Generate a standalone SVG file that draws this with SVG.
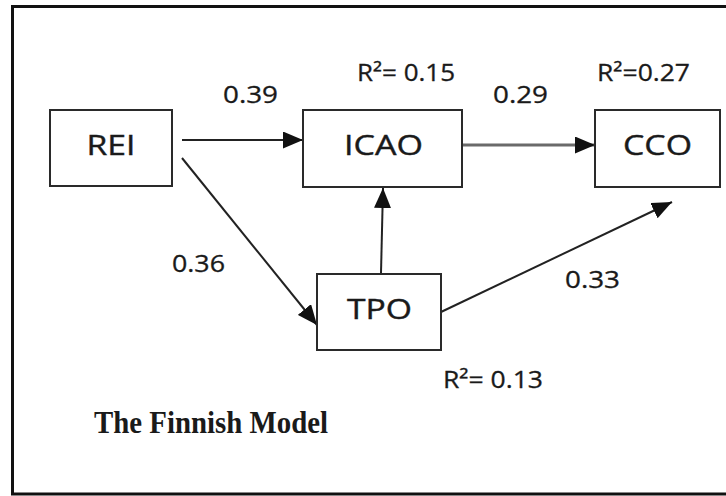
<svg xmlns="http://www.w3.org/2000/svg" width="726" height="496" viewBox="0 0 726 496">
  <style>
    .frame { fill: none; stroke: #111; stroke-width: 3; }
    .box { fill: #fff; stroke: #2a2a2a; stroke-width: 2; }
    .node-label { font-family: "Open Sans", "Noto Sans", "DejaVu Sans", sans-serif; font-size: 28px; fill: #1a1a1a; stroke: #1a1a1a; stroke-width: 0.4; text-anchor: middle; }
    .coef { font-family: "Open Sans", "Noto Sans", "DejaVu Sans", sans-serif; font-size: 23px; fill: #1a1a1a; stroke: #1a1a1a; stroke-width: 0.3; }
    .title { font-family: "Liberation Serif", "DejaVu Serif", serif; font-weight: bold; font-size: 32px; fill: #1a1a1a; }
    .edge { fill: none; stroke: #222; stroke-width: 2; }
    .edge-grey { fill: none; stroke: #6a6a6a; stroke-width: 3; }
  </style>
  <defs>
    <marker id="head" markerUnits="userSpaceOnUse" markerWidth="20" markerHeight="17" refX="20" refY="8.5" orient="auto">
      <path d="M0,0 L20,8.5 L0,17 z" fill="#111"/>
    </marker>
  </defs>

  <rect width="726" height="496" fill="#fff"/>

  <!-- outer frame: open on the right side -->
  <path class="frame" d="M740,6.5 H12.5 V494 H740"/>

  <g id="connectors">
    <line class="edge" x1="182" y1="140" x2="303" y2="140" marker-end="url(#head)"/>
    <line class="edge-grey" x1="462" y1="145" x2="595" y2="145" marker-end="url(#head)"/>
    <line class="edge" x1="182" y1="158" x2="317" y2="325" marker-end="url(#head)"/>
    <line class="edge" x1="381" y1="273" x2="383" y2="188" marker-end="url(#head)"/>
    <line class="edge" x1="441" y1="312" x2="672" y2="202" marker-end="url(#head)"/>
  </g>

  <g id="node-rei">
    <rect class="box" x="50" y="110" width="122" height="76"/>
    <text class="node-label" x="111" y="155" textLength="49" lengthAdjust="spacingAndGlyphs">REI</text>
  </g>

  <g id="node-icao">
    <rect class="box" x="303" y="110" width="159" height="77"/>
    <text class="node-label" x="383.5" y="155" textLength="79" lengthAdjust="spacingAndGlyphs">ICAO</text>
  </g>

  <g id="node-cco">
    <rect class="box" x="595" y="110" width="125" height="77"/>
    <text class="node-label" x="657.5" y="155" textLength="69" lengthAdjust="spacingAndGlyphs">CCO</text>
  </g>

  <g id="node-tpo">
    <rect class="box" x="317" y="274" width="124" height="76"/>
    <text class="node-label" x="379.5" y="319" textLength="65" lengthAdjust="spacingAndGlyphs">TPO</text>
  </g>

  <g id="labels">
    <text class="coef" x="223" y="103" textLength="55" lengthAdjust="spacingAndGlyphs">0.39</text>
    <text class="coef" x="357" y="81" textLength="98" lengthAdjust="spacingAndGlyphs">R²= 0.15</text>
    <text class="coef" x="493" y="103" textLength="55" lengthAdjust="spacingAndGlyphs">0.29</text>
    <text class="coef" x="597" y="81" textLength="93" lengthAdjust="spacingAndGlyphs">R²=0.27</text>
    <text class="coef" x="172" y="272" textLength="53" lengthAdjust="spacingAndGlyphs">0.36</text>
    <text class="coef" x="565" y="288" textLength="55" lengthAdjust="spacingAndGlyphs">0.33</text>
    <text class="coef" x="443" y="388" textLength="100" lengthAdjust="spacingAndGlyphs">R²= 0.13</text>
    <text class="title" x="94" y="433" textLength="234" lengthAdjust="spacingAndGlyphs">The Finnish Model</text>
  </g>
</svg>
